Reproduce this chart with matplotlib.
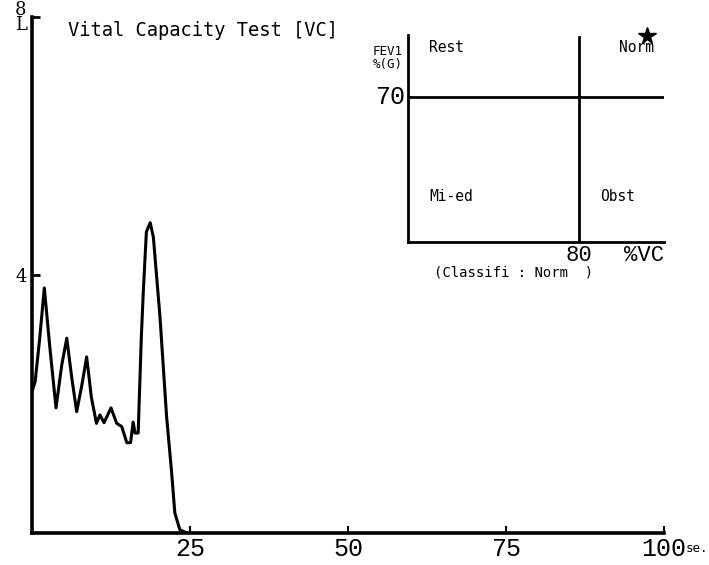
import matplotlib
matplotlib.use("Agg")
import matplotlib.pyplot as plt

# spirogram trace (time in s, volume in L)
time_s = [0.0, 0.5, 1.2, 1.95, 2.8, 3.8, 4.7, 5.5, 6.3, 7.07, 7.9, 8.65, 9.4,
          10.2, 10.75, 11.4, 12.5, 13.4, 14.2, 15.0, 15.6, 16.0, 16.3, 16.8,
          17.3, 17.6, 18.1, 18.7, 19.2, 20.25, 21.3, 22.1, 22.6, 23.4, 24.5]
volume_l = [2.19, 2.35, 3.0, 3.8, 2.9, 1.94, 2.6, 3.02, 2.4, 1.88, 2.3, 2.73,
            2.1, 1.7, 1.83, 1.71, 1.94, 1.7, 1.65, 1.4, 1.4, 1.72, 1.55, 1.55,
            3.04, 3.72, 4.67, 4.81, 4.59, 3.35, 1.8, 0.93, 0.31, 0.05, 0.0]

x_ticks = [25, 50, 75, 100]
x_tick_labels = ["25", "50", "75", "100"]

# classification chart (%VC vs FEV1%(G))
vc_threshold = 80
fev1_threshold = 70
patient_vc = [112]
patient_fev1 = [99.5]
quadrant_labels = ["Rest", "Norm", "Mi-ed", "Obst"]
quadrant_pos = [(10, 94), (99, 94), (10, 22), (90, 22)]

mono = "DejaVu Sans Mono"
thin = "Liberation Mono"

fig = plt.figure(figsize=(7.09, 5.65), dpi=100)
ax = fig.add_axes([32 / 709, 32 / 565, 632 / 709, 516 / 565])

ax.plot(time_s, volume_l, color="black", linewidth=2.2, solid_joinstyle="round")
ax.set_xlim(0, 100)
ax.set_ylim(0, 8)
for side in ["top", "right"]:
    ax.spines[side].set_visible(False)
for side in ["left", "bottom"]:
    ax.spines[side].set_linewidth(2.6)

ax.set_xticks(x_ticks)
ax.set_xticklabels(x_tick_labels, fontfamily=thin, fontsize=18)
ax.set_yticks([4, 8])
ax.set_yticklabels(["4", "8\nL"], fontfamily="DejaVu Serif", fontsize=13,
                   linespacing=0.75)
ax.tick_params(axis="x", direction="in", length=5, width=1.5, pad=3)
ax.tick_params(axis="y", direction="in", length=6, width=2, pad=4)
ax.text(1.035, -0.03, "se.", transform=ax.transAxes, fontfamily=mono,
        fontsize=9, va="center", ha="left")

fig.text(68 / 709, 1 - 30 / 565, "Vital Capacity Test [VC]", fontfamily=mono,
         fontsize=13.5, va="center", ha="left")

# inset classification axes
ins = fig.add_axes([408 / 709, 1 - 242 / 565, 256 / 709, 207 / 565])
ins.set_xlim(0, 120)
ins.set_ylim(0, 100)
for side in ["top", "right"]:
    ins.spines[side].set_visible(False)
for side in ["left", "bottom"]:
    ins.spines[side].set_linewidth(2)
ins.set_xticks([])
ins.set_yticks([])
ins.axhline(fev1_threshold, color="black", linewidth=2)
ins.axvline(vc_threshold, ymin=0, ymax=0.99, color="black", linewidth=2)
ins.plot(patient_vc, patient_fev1, marker="*", color="black", markersize=13,
         linestyle="none", clip_on=False)
for lab, (qx, qy) in zip(quadrant_labels, quadrant_pos):
    ins.text(qx, qy, lab, fontfamily=mono, fontsize=10.5, va="center", ha="left")

ins.text(-0.02, 0.95, "FEV1\n%(G)", transform=ins.transAxes, fontfamily=mono,
         fontsize=9, va="top", ha="right", linespacing=1.0)
ins.text(-0.01, fev1_threshold, "70", transform=ins.get_yaxis_transform(),
         fontfamily=thin, fontsize=18, va="center", ha="right")
ins.text(vc_threshold, -0.015, "80", transform=ins.get_xaxis_transform(),
         fontfamily=thin, fontsize=16, va="top", ha="center")
ins.text(1.0, -0.015, "%VC", transform=ins.transAxes, fontfamily=thin,
         fontsize=16, va="top", ha="right")
ins.text(0.1, -0.115, "(Classifi : Norm  )", transform=ins.transAxes,
         fontfamily=mono, fontsize=10, va="top", ha="left")

fig.savefig("out.png", dpi=100)
